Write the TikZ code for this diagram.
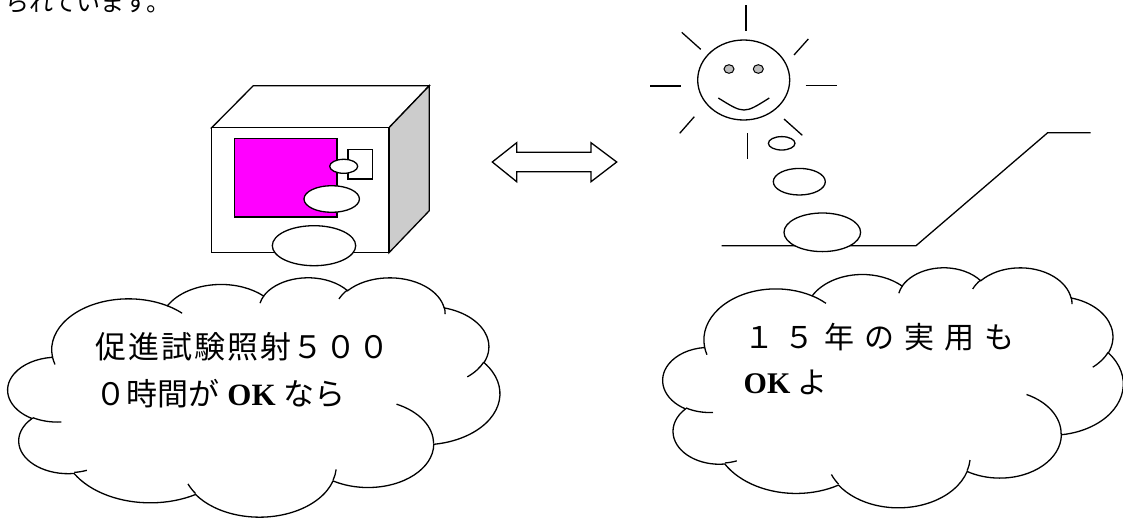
\documentclass[tikz,border=0pt]{standalone}
\usepackage{fontspec}
\newfontfamily\jpfont{Noto Sans CJK JP}
\newfontfamily\serifb{Liberation Serif}
\definecolor{screenpink}{RGB}{255,0,255}
\definecolor{sidegray}{RGB}{204,204,204}
\definecolor{eyegray}{RGB}{190,190,190}

% one arc of the cloud outline: x radius, y radius, start angle, sweep
% (angles are taken as seen on the ellipse and turned into parametric ones)
\newcommand\cloudarc[4]{%
  arc[start angle={atan2((#1)*sin(#3),(#2)*cos(#3))},
      delta angle={mod(atan2((#1)*sin((#3)+(#4)),(#2)*cos((#3)+(#4)))-atan2((#1)*sin(#3),(#2)*cos(#3))+720,360)},
      x radius=#1, y radius=#2]}

% cloud outline in a 43200 x 43200 box
\newcommand\cloudoutline{%
  (3900,14370)
  \cloudarc{6753}{9190}{-190.48748}{123.78053}
  \cloudarc{5333}{7267}{-144.10238}{89.94523}
  \cloudarc{4365}{5945}{-145.80792}{99.72302}
  \cloudarc{4857}{6595}{-130.98607}{117.24173}
  \cloudarc{5333}{7273}{-78.70888}{109.02692}
  \cloudarc{6775}{9220}{-46.26725}{130.269}
  \cloudarc{5785}{7867}{0.62502}{114.03333}
  \cloudarc{6752}{9215}{22.4516}{115.17255}
  \cloudarc{7720}{10543}{66.24263}{75.71102}
  \cloudarc{4360}{5918}{-274.94208}{146.73557}
  \cloudarc{4345}{5945}{-246.8285}{152.51885}
  -- cycle}

% short inner arcs where the bulges meet
\newcommand\cloudinner{%
  (4693,26177) \cloudarc{4345}{5945}{86.742}{26.4295}
  (6928,34899) \cloudarc{4360}{5918}{73.61047}{11.44747}
  (16478,39090) \cloudarc{6752}{9215}{137.62415}{14.0811}
  (28827,34751) \cloudarc{6752}{9215}{6.45327}{15.99835}
  (34129,22954) \cloudarc{5785}{7867}{-70.29235}{70.91737}
  (41798,15354) \cloudarc{5333}{7273}{30.31803}{27.7515}
  (38324,5426) \cloudarc{4857}{6595}{-13.74433}{14.8589}
  (29078,3952) \cloudarc{4857}{6595}{-149.18145}{18.19537}
  (22141,4720) \cloudarc{4365}{5945}{-163.49427}{17.68635}
  (14000,5192) \cloudarc{6753}{9190}{-66.70695}{12.31935}
  (4127,15789) \cloudarc{6753}{9190}{157.65435}{11.85817}}

\begin{document}
\begin{tikzpicture}[x=1pt, y=-1pt, line width=1.3pt,
  outline/.style={draw=black, fill=white},
  lefttext/.style={anchor=base west, inner sep=0pt,
    font=\jpfont\fontsize{31pt}{33pt}\selectfont},
  righttext/.style={anchor=base west, inner sep=0pt,
    font=\jpfont\fontsize{30pt}{32pt}\selectfont},
  toptext/.style={anchor=base west, inner sep=0pt,
    font=\jpfont\fontsize{24pt}{26pt}\selectfont}]
\useasboundingbox (0,0) rectangle (1123,517);

% last line of the running text above, cut by the page edge
\begin{scope}
  \clip (0,0) rectangle (1123,517);
  \node[toptext] (topline) at (5,11) {られています。};
\end{scope}

% ---------- microwave oven ----------
\draw[outline] (211.7,127.7) -- (253.3,85.7) -- (429.3,85.7) -- (389,127.7) -- cycle;
\draw[draw=black, fill=sidegray] (389,127.7) -- (429.3,85.7) -- (429.3,210.7) -- (389,252.7) -- cycle;
\draw[outline] (211.7,127.7) rectangle (389,252.7);
\draw[draw=black, fill=screenpink] (234.3,138.7) rectangle (337,217);
\draw[outline] (348,149.3) rectangle (372.7,179);
\draw[outline] (343.7,166.3) ellipse [x radius=14, y radius=7];
\draw[outline] (331.7,199) ellipse [x radius=27.7, y radius=13.3];
\draw[outline] (314,245.7) ellipse [x radius=41.7, y radius=20];

% ---------- double arrow ----------
\draw[outline] (492.3,162) -- (516.7,142.7) -- (516.7,152.3) -- (591,152.3)
  -- (591,142.7) -- (616.7,162) -- (591,181.7) -- (591,171.7)
  -- (516.7,171.7) -- (516.7,181.7) -- cycle;

% ---------- sun ----------
\draw (746,5) -- (746,31);
\draw (747.7,133.3) -- (747.7,159.3);
\draw (650,86) -- (680.7,86);
\draw (805.7,85.3) -- (836.7,85.3);
\draw (681.7,32.3) -- (700.7,49.3);
\draw (808.3,39) -- (794,55);
\draw (694.3,116.7) -- (679.7,133.3);
\draw (784,119) -- (802.3,135.3);
\draw[outline] (743.7,80) ellipse [x radius=46, y radius=40];
\draw[draw=black, fill=eyegray, line width=1pt] (729,69) ellipse [x radius=5, y radius=4.3];
\draw[draw=black, fill=eyegray, line width=1pt] (758.3,69) ellipse [x radius=5, y radius=4.3];
\draw (718.3,98) .. controls (744,114) .. (769.3,98);

% ---------- ground and slope ----------
\draw (721.7,245.7) -- (916,245.7) -- (1047.7,132.7) -- (1090.7,132.7);

% ---------- bubbles from the sun ----------
\draw[outline] (781.7,143.3) ellipse [x radius=13.3, y radius=6.7];
\draw[outline] (799.3,181.7) ellipse [x radius=26, y radius=13.3];
\draw[outline] (822.3,232.3) ellipse [x radius=38.3, y radius=19.3];

% ---------- left cloud ----------
\begin{scope}[shift={(8,277)}, x=0.011389pt, y=-0.0055324pt]
  \draw[outline] \cloudoutline;
  \draw \cloudinner;
\end{scope}
\node[lefttext] (lefttop) at (95,358)
  {\makebox[294pt][s]{促\hfil 進\hfil 試\hfil 験\hfil 照\hfil 射\hfil ５\hfil ０\hfil ０}};
\node[lefttext] (leftbottom) at (95,405)
  {０時間が{\serifb\bfseries\ OK\ }なら};

% ---------- right cloud ----------
\begin{scope}[shift={(663,267)}, x=0.010648pt, y=-0.0055556pt]
  \draw[outline] \cloudoutline;
  \draw \cloudinner;
\end{scope}
\node[righttext] (righttop) at (744,348)
  {\makebox[270pt][s]{１\hfil ５\hfil 年\hfil の\hfil 実\hfil 用\hfil も}};
\node[righttext] (rightbottom) at (743,393)
  {{\serifb\bfseries OK\ }よ};
\end{tikzpicture}
\end{document}
